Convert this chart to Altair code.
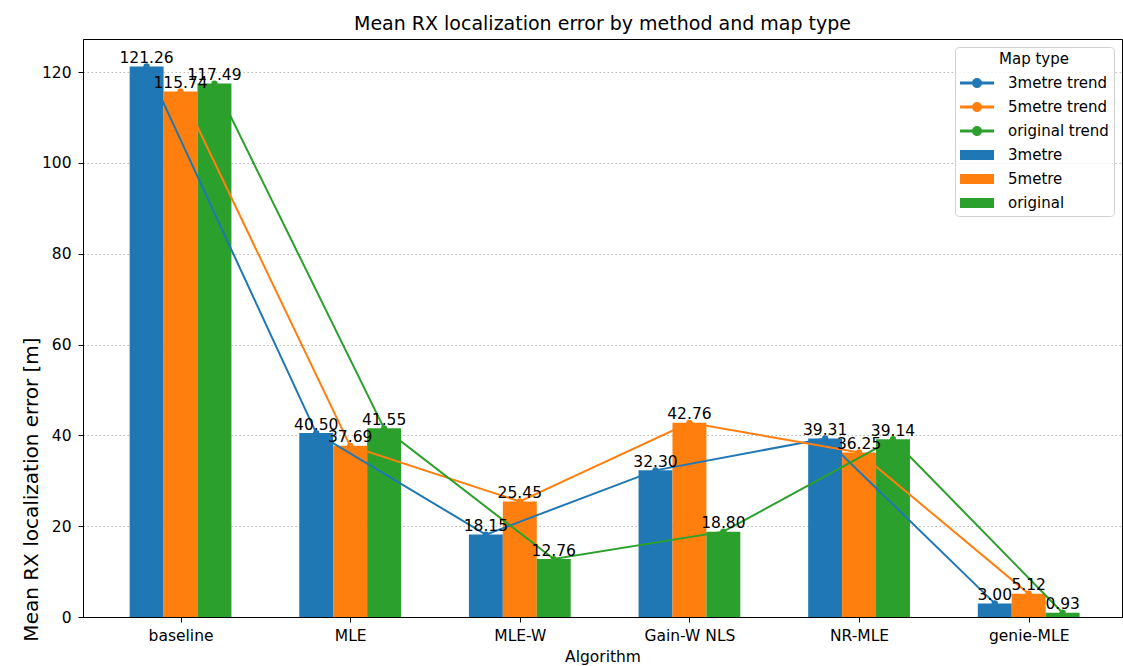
import json
import math
import altair as alt
import pandas as pd

# ---- data ----
algorithms = ["baseline", "MLE", "MLE-W", "Gain-W NLS", "NR-MLE", "genie-MLE"]
map_types = ["3metre", "5metre", "original"]
err_3metre = [121.26, 40.50, 18.15, 32.30, 39.31, 3.00]
err_5metre = [115.74, 37.69, 25.45, 42.76, 36.25, 5.12]
err_original = [117.49, 41.55, 12.76, 18.80, 39.14, 0.93]
y_ticks = [0, 20, 40, 60, 80, 100, 120]
legend_entries = ["3metre trend", "5metre trend", "original trend", "3metre", "5metre", "original"]

colors = ["#1f77b4", "#ff7f0e", "#2ca02c"]
FONT = "DejaVu Sans"

rows = []
for m_i, (m, vals) in enumerate(zip(map_types, [err_3metre, err_5metre, err_original])):
    for a_i, (a, v) in enumerate(zip(algorithms, vals)):
        rows.append({"algorithm": a, "idx": a_i, "map": m, "m_i": m_i, "value": v})
df = pd.DataFrame(rows)

legend_df = pd.DataFrame({"entry": legend_entries, "lx": [0] * 6, "ly": [-60] * 6})

xscale = alt.Scale(domain=[-0.575, 5.55], nice=False, zero=False)
yscale = alt.Scale(domain=[0, 127.3], nice=False, zero=True)

xaxis = alt.Axis(
    values=list(range(len(algorithms))),
    labelExpr=json.dumps(algorithms) + "[datum.value]",
    title="Algorithm",
    grid=False,
    labelFontSize=15.5,
    labelPadding=6,
    tickSize=5,
    titleFontSize=15.5,
    titleBaseline="alphabetic",
    titleY=44,
    titleFontWeight="normal",
)
yaxis = alt.Axis(
    values=y_ticks,
    title="Mean RX localization error [m]",
    grid=True,
    gridDash=[1.5, 2.5],
    gridColor="#b0b0b0",
    gridWidth=0.9,
    labelFontSize=15.5,
    labelPadding=7,
    tickSize=5,
    titleFontSize=20,
    titleFontWeight="normal",
    titleAngle=270,
    titleX=-46,
    titleY=450,
    titleAlign="center",
    titleBaseline="alphabetic",
)

def X(field):
    return alt.X(field, type="quantitative", scale=xscale, axis=xaxis)

def Y(field):
    return alt.Y(field, type="quantitative", scale=yscale, axis=yaxis)

color = alt.Color("map:N", scale=alt.Scale(domain=map_types, range=colors), legend=None)

base = alt.Chart(df).transform_calculate(
    pos="datum.idx + (datum.m_i - 1) * 0.2",
    lo="datum.idx + (datum.m_i - 1) * 0.2 - 0.1",
    hi="datum.idx + (datum.m_i - 1) * 0.2 + 0.1",
)

bars = base.mark_rect().encode(
    x=X("lo"), x2="hi:Q", y=Y("value"), y2=alt.datum(0), color=color
)
lines = base.mark_line(strokeWidth=2).encode(
    x=X("pos"), y=Y("value"), color=color, order="idx:Q"
)
markers = base.mark_circle(size=40, opacity=1).encode(x=X("pos"), y=Y("value"), color=color)
labels = base.mark_text(
    baseline="alphabetic", align="center", dy=-3.5, fontSize=15.5, font=FONT, color="black"
).encode(x=X("pos"), y=Y("value"), text=alt.Text("value:Q", format=".2f"))

# legend glyphs: line with a dot (polygonal circle), and a bar patch
pts = ["%.3f,%.3f" % (1 + 0.5 * math.cos(k * math.pi / 8), 0.5 * math.sin(k * math.pi / 8)) for k in range(16)]
trend_path = "M-1,-0.06L3,-0.06L3,0.06L-1,0.06Z" + "M" + "L".join(pts) + "Z"
bar_path = "M-1,-0.5L3,-0.5L3,0.5L-1,0.5Z"
legend_colors = colors + colors
legend_shapes = [trend_path] * 3 + [bar_path] * 3

leg = alt.Legend(
    title="Map type",
    orient="none",
    legendX=872,
    legendY=8,
    columns=1,
    gridAlign="none",
    titleFontSize=15,
    titleFontWeight="normal",
    titleAnchor="middle",
    titleColor="black",
    titleFont=FONT,
    titlePadding=7,
    labelFontSize=15,
    labelFont=FONT,
    labelColor="black",
    labelAlign="left",
    labelLimit=400,
    labelOffset=30,
    symbolSize=256,
    symbolStrokeWidth=2,
    rowPadding=7,
    padding=5,
    strokeColor="#d0d0d0",
    fillColor="rgba(255,255,255,0.8)",
    cornerRadius=4,
)

legend_layer = alt.Chart(legend_df).mark_point(
    filled=True, clip=True, opacity=1, size=256, strokeWidth=2
).encode(
    x=X("lx"),
    y=Y("ly"),
    fill=alt.Fill("entry:N", scale=alt.Scale(domain=legend_entries, range=legend_colors), legend=leg),
    stroke=alt.Stroke("entry:N", scale=alt.Scale(domain=legend_entries, range=legend_colors), legend=leg),
    shape=alt.Shape("entry:N", scale=alt.Scale(domain=legend_entries, range=legend_shapes), legend=leg),
)

chart = alt.layer(bars, lines, markers, labels, legend_layer).properties(
    width=1039,
    height=578,
    autosize=alt.AutoSizeParams(type="none"),
    padding={"left": 83, "top": 39, "right": 1, "bottom": 49},
    title=alt.TitleParams(
        "Mean RX localization error by method and map type",
        fontSize=19,
        font=FONT,
        fontWeight="normal",
        anchor="middle",
        baseline="alphabetic",
        offset=10,
        dy=20,
        color="black",
    ),
).configure_view(stroke="black", strokeWidth=1).configure_axis(
    domainColor="black",
    tickColor="black",
    labelColor="black",
    titleColor="black",
    labelFont=FONT,
    titleFont=FONT,
)

chart.save("out.html", embed_options={"renderer": "svg", "actions": False})
